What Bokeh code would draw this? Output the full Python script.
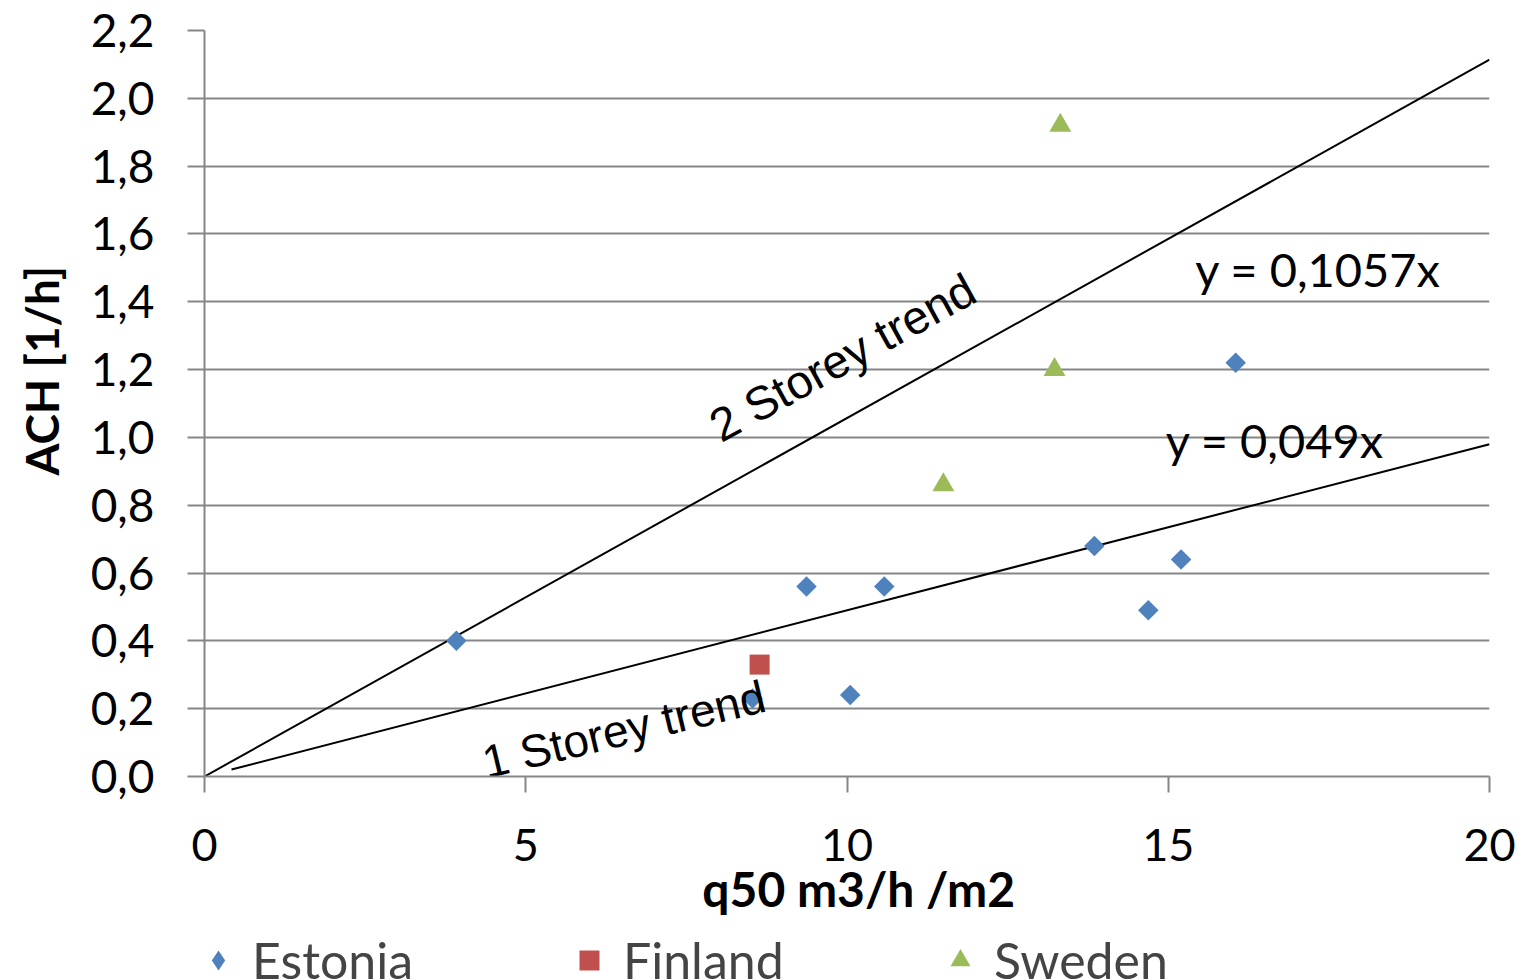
import math
from bokeh.plotting import figure
from bokeh.layouts import column
from bokeh.models import (Range1d, FixedTicker, CustomJSTickFormatter,
                          Legend, LegendItem)
from bokeh.core.properties import value
from bokeh.embed import file_html
from bokeh.resources import INLINE

# ---- data ----
estonia_q50 = [3.92, 8.53, 9.37, 10.05, 10.58, 13.85, 14.69, 15.20, 16.05]
estonia_ach = [0.40, 0.23, 0.56, 0.24, 0.56, 0.68, 0.49, 0.64, 1.22]
finland_q50 = [8.64]
finland_ach = [0.33]
sweden_q50 = [11.50, 13.23, 13.32]
sweden_ach = [0.86, 1.20, 1.92]

trend2_slope = 0.1057
trend2_x = [0.0, 20.0]
trend1_slope = 0.049
trend1_x = [0.42, 20.0]

x_ticks = [0, 5, 10, 15, 20]
y_ticks = [0.0, 0.2, 0.4, 0.6, 0.8, 1.0, 1.2, 1.4, 1.6, 1.8, 2.0, 2.2]

FONT = "Lato"
GRAY = "#868686"
BLUE = "#4F81BD"
RED = "#C0504D"
GREEN = "#9BBB59"
NB = "\u00a0"

p = figure(width=1525, height=935, output_backend="svg", toolbar_location=None,
           x_range=Range1d(0, 20), y_range=Range1d(0, 2.2),
           min_border_left=204, min_border_right=36, min_border_top=30,
           min_border_bottom=159)
p.outline_line_color = None
p.background_fill_color = "white"
p.border_fill_color = "white"

# axes
for ax in (p.xaxis[0], p.yaxis[0]):
    ax.axis_line_color = GRAY
    ax.axis_line_width = 2
    ax.major_tick_line_color = GRAY
    ax.major_tick_line_width = 2
    ax.major_tick_in = 0
    ax.minor_tick_line_color = None
    ax.major_label_text_font = FONT
    ax.major_label_text_font_size = "45px"
    ax.major_label_text_color = "black"
    ax.axis_label_text_font = FONT
    ax.axis_label_text_font_style = "bold"
    ax.axis_label_text_color = "black"

p.xaxis.ticker = FixedTicker(ticks=x_ticks)
p.xaxis.major_tick_out = 16
p.xaxis.major_label_standoff = 36
p.xaxis.axis_label = NB * 2 + "q50 m3/h /m2"
p.xaxis.axis_label_text_font_size = "48px"
p.xaxis.axis_label_standoff = -4

p.yaxis.ticker = FixedTicker(ticks=y_ticks)
p.yaxis.major_tick_out = 17
p.yaxis.major_label_standoff = 33
p.yaxis.major_label_text_font_size = "46px"
p.yaxis.formatter = CustomJSTickFormatter(code="return tick.toFixed(1).replace('.', ',')")
p.yaxis.axis_label = NB * 6 + "ACH [1/h]"
p.yaxis.axis_label_text_font_size = "46px"
p.yaxis.axis_label_standoff = 19

p.xgrid.visible = False
p.ygrid.ticker = FixedTicker(ticks=y_ticks)
p.ygrid.grid_line_color = GRAY
p.ygrid.grid_line_width = 2

# trend lines
p.line(trend2_x, [trend2_slope * x for x in trend2_x], line_color="black", line_width=2)
p.line(trend1_x, [trend1_slope * x for x in trend1_x], line_color="black", line_width=2)

# scatter points
r_est = p.scatter(estonia_q50, estonia_ach, marker="square", size=14.5, angle=math.pi / 4,
                  fill_color=BLUE, line_color=None)
r_fin = p.scatter(finland_q50, finland_ach, marker="square", size=20,
                  fill_color=RED, line_color=None)
r_swe = p.scatter(sweden_q50, sweden_ach, marker="triangle", size=22,
                  fill_color=GREEN, line_color=None)

# trend labels
p.text(x=[7.92], y=[1.025], text=["2 Storey trend"], angle=math.radians(29),
       text_font=value("Liberation Sans"), text_font_size="47px",
       text_align="left", text_baseline="alphabetic", text_color="black")
p.text(x=[4.34], y=[0.04], text=["1 Storey trend"], angle=math.radians(13.5),
       text_font=value("Liberation Sans"), text_font_size="46px",
       text_align="left", text_baseline="alphabetic", text_color="black")

# equations
p.text(x=[15.42], y=[1.498], text=["y = 0,1057x"], text_font=value(FONT),
       text_font_size="47px", text_align="left", text_baseline="alphabetic",
       text_color="black")
p.text(x=[14.96], y=[0.991], text=["y = 0,049x"], text_font=value(FONT),
       text_font_size="47px", text_align="left", text_baseline="alphabetic",
       text_color="black")

# legend strip (cut off at the bottom like the reference)
leg = figure(width=1525, height=45, output_backend="svg", toolbar_location=None,
             x_range=Range1d(0, 1), y_range=Range1d(0, 1),
             x_axis_location=None, y_axis_location=None, min_border=0)
leg.outline_line_color = None
leg.grid.visible = False
# hidden (size 0, out of range) copies of the series, used only for the legend keys
l_est = leg.scatter(estonia_q50, estonia_ach, size=0, marker="diamond",
                    fill_color=BLUE, line_color=None)
l_fin = leg.scatter(finland_q50, finland_ach, size=0, marker="square",
                    fill_color=RED, line_color=None)
l_swe = leg.scatter(sweden_q50, sweden_ach, size=0, marker="triangle",
                    fill_color=GREEN, line_color=None)
legend = Legend(items=[LegendItem(label="Estonia", renderers=[l_est]),
                       LegendItem(label="Finland", renderers=[l_fin]),
                       LegendItem(label="Sweden", renderers=[l_swe])],
                location=(-11, -10), orientation="horizontal",
                label_text_font=FONT, label_text_font_size="50px",
                glyph_width=50, glyph_height=60, label_height=60,
                label_width=300, label_standoff=9, spacing=12,
                padding=0, margin=0, border_line_color=None,
                background_fill_alpha=0)
leg.add_layout(legend, "center")

layout = column(p, leg, spacing=0)
open("out.html", "w").write(file_html(layout, INLINE))
